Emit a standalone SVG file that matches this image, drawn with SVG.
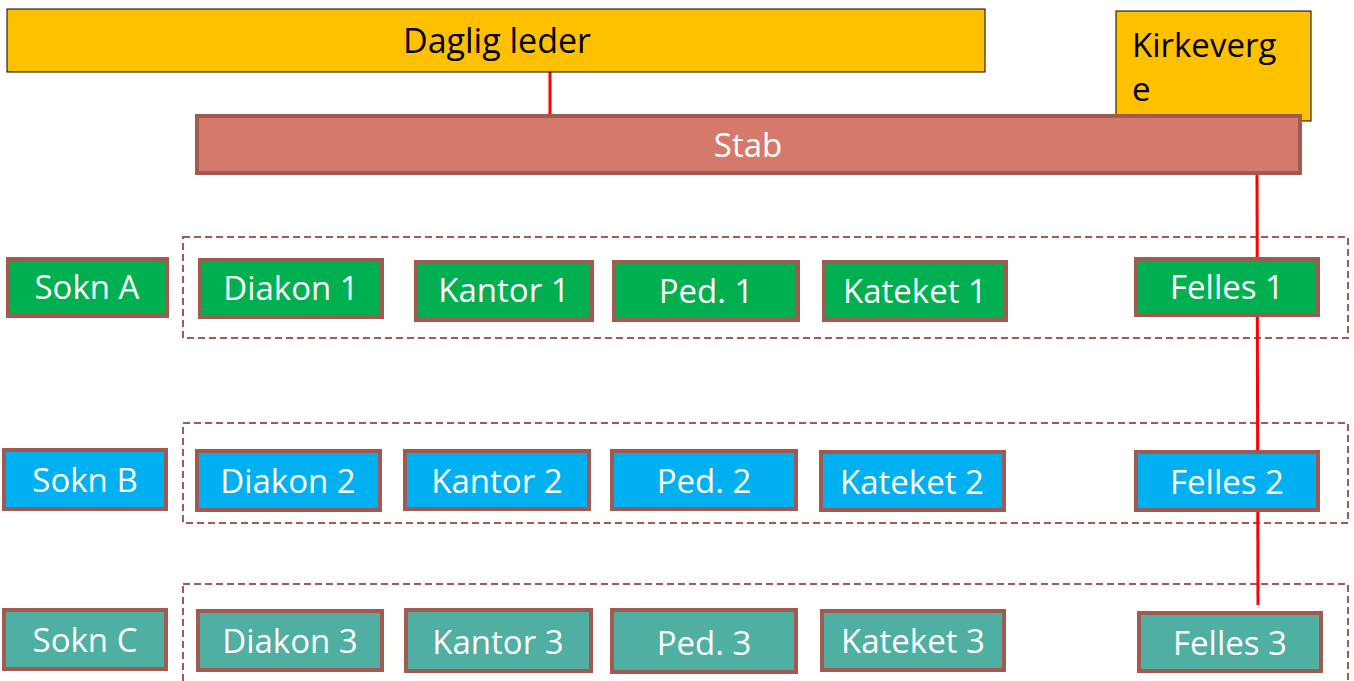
<svg xmlns="http://www.w3.org/2000/svg" width="1354" height="681" viewBox="0 0 1354 681">
<style>
.lbl{font-family:"Open Sans","Liberation Sans",sans-serif;font-size:33px;fill:#fff;text-anchor:middle}
.blk{font-family:"Open Sans","Liberation Sans",sans-serif;font-size:33px;fill:#000}
.box{stroke:#A05A4F;stroke-width:4}
.g{fill:#00B050}.b{fill:#00B0F0}.t{fill:#4EAFA2}
.grp{fill:none;stroke:#A05A4F;stroke-width:2;stroke-dasharray:7 4}
.link{stroke:#FF0000;stroke-width:3;fill:none}
</style>
<rect width="1354" height="681" fill="#fff"/>
<g id="groups">
<rect class="grp" x="183" y="237" width="1165" height="101"/>
<rect class="grp" x="183" y="423" width="1165" height="100"/>
<rect class="grp" x="183" y="584" width="1165" height="110"/>
</g>
<g id="connectors">
<line class="link" x1="550" y1="72" x2="550" y2="115"/>
<line class="link" x1="1257" y1="173" x2="1258" y2="605"/>
</g>
<g id="daglig-leder"><rect x="7" y="9" width="978" height="63" fill="#FFC000" stroke="#000" stroke-width="1"/><text class="blk" x="497" y="53" text-anchor="middle" style="font-size:34px">Daglig leder</text></g>
<g id="kirkeverge"><rect x="1116" y="11" width="195" height="110" fill="#FFC000" stroke="#000" stroke-width="1"/><text class="blk" x="1132" y="57">Kirkeverg</text><text class="blk" x="1132" y="101">e</text></g>
<g id="stab"><rect class="box" x="197" y="116" width="1103" height="57" fill="#D5796A"/><text class="lbl" x="748" y="157">Stab</text></g>
<g id="sokn-a"><rect class="box g" x="8" y="259" width="159" height="57"/><text class="lbl" x="87" y="299">Sokn A</text></g>
<g id="diakon-1"><rect class="box g" x="200" y="260" width="182" height="57"/><text class="lbl" x="291" y="300">Diakon 1</text></g>
<g id="kantor-1"><rect class="box g" x="416" y="262" width="176" height="58"/><text class="lbl" x="504" y="302">Kantor 1</text></g>
<g id="ped-1"><rect class="box g" x="614" y="262" width="184" height="58"/><text class="lbl" x="706" y="303">Ped. 1</text></g>
<g id="kateket-1"><rect class="box g" x="824" y="262" width="182" height="58"/><text class="lbl" x="915" y="303">Kateket 1</text></g>
<g id="felles-1"><rect class="box g" x="1136" y="259" width="182" height="56"/><text class="lbl" x="1227" y="299">Felles 1</text></g>
<g id="sokn-b"><rect class="box b" x="4" y="450" width="162" height="59"/><text class="lbl" x="85" y="492">Sokn B</text></g>
<g id="diakon-2"><rect class="box b" x="197" y="451" width="183" height="59"/><text class="lbl" x="288" y="493">Diakon 2</text></g>
<g id="kantor-2"><rect class="box b" x="405" y="451" width="184" height="58"/><text class="lbl" x="497" y="493">Kantor 2</text></g>
<g id="ped-2"><rect class="box b" x="612" y="451" width="184" height="58"/><text class="lbl" x="704" y="493">Ped. 2</text></g>
<g id="kateket-2"><rect class="box b" x="821" y="452" width="183" height="58"/><text class="lbl" x="912" y="494">Kateket 2</text></g>
<g id="felles-2"><rect class="box b" x="1136" y="452" width="182" height="58"/><text class="lbl" x="1227" y="494">Felles 2</text></g>
<g id="sokn-c"><rect class="box t" x="4" y="610" width="162" height="59"/><text class="lbl" x="85" y="652">Sokn C</text></g>
<g id="diakon-3"><rect class="box t" x="198" y="611" width="184" height="59"/><text class="lbl" x="290" y="653">Diakon 3</text></g>
<g id="kantor-3"><rect class="box t" x="406" y="610" width="185" height="61"/><text class="lbl" x="498" y="654">Kantor 3</text></g>
<g id="ped-3"><rect class="box t" x="612" y="610" width="184" height="62"/><text class="lbl" x="704" y="655">Ped. 3</text></g>
<g id="kateket-3"><rect class="box t" x="822" y="611" width="182" height="59"/><text class="lbl" x="913" y="653">Kateket 3</text></g>
<g id="felles-3"><rect class="box t" x="1139" y="613" width="182" height="58"/><text class="lbl" x="1230" y="655">Felles 3</text></g>
</svg>
